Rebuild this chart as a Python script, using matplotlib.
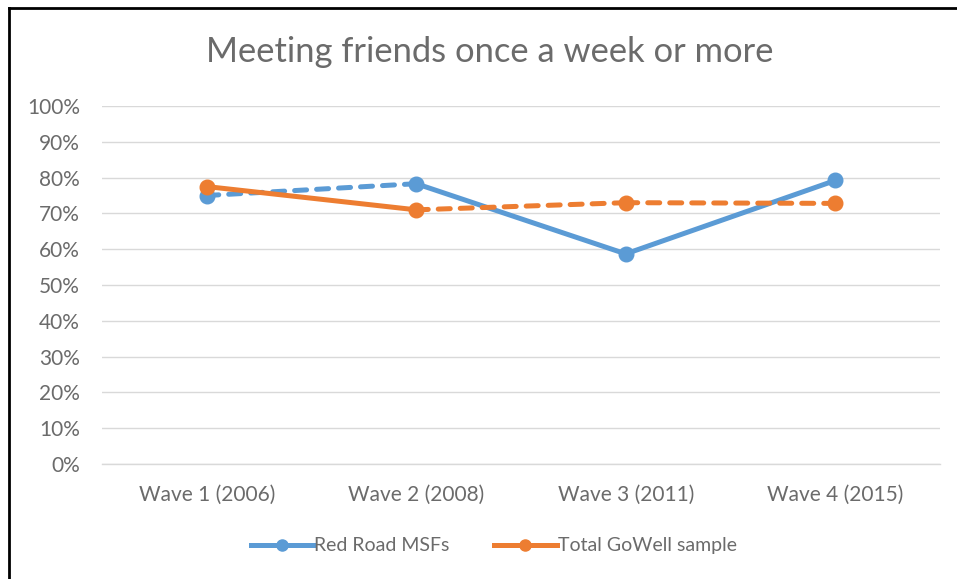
import matplotlib.pyplot as plt
from matplotlib.lines import Line2D

waves = ["Wave 1 (2006)", "Wave 2 (2008)", "Wave 3 (2011)", "Wave 4 (2015)"]
red_road = [75.0, 78.3, 58.7, 79.2]
gowell = [77.5, 71.0, 73.0, 72.8]
# style of each segment between consecutive waves
red_road_segments = ["dashed", "solid", "solid"]
gowell_segments = ["solid", "dashed", "dashed"]
yticks = list(range(0, 101, 10))

blue = "#5B9BD5"
orange = "#ED7D31"
grey = "#6B6B6B"

plt.rcParams["font.family"] = ["Lato", "DejaVu Sans"]

fig = plt.figure(figsize=(9.57, 5.79), dpi=100)
ax = fig.add_axes([0.1066, 0.1986, 0.8756, 0.6183])

x = list(range(len(waves)))


def draw_series(vals, segs, color):
    for i, style in enumerate(segs):
        if style == "dashed":
            ax.plot(x[i:i + 2], vals[i:i + 2], color=color, lw=3.6,
                    dashes=(2.4, 2.0), dash_capstyle="round", zorder=3)
        else:
            ax.plot(x[i:i + 2], vals[i:i + 2], color=color, lw=3.6,
                    solid_capstyle="round", zorder=3)
    ax.plot(x, vals, linestyle="none", marker="o", markersize=10.5,
            color=color, zorder=4)


draw_series(red_road, red_road_segments, blue)
draw_series(gowell, gowell_segments, orange)

ax.set_xlim(-0.5, len(waves) - 0.5)
ax.set_ylim(0, 100)
ax.set_yticks(yticks)
ax.set_yticklabels([f"{v}%" for v in yticks])
ax.set_xticks(x)
ax.set_xticklabels(waves)
ax.tick_params(axis="both", length=0, labelsize=15, labelcolor=grey)
ax.tick_params(axis="y", pad=16)
ax.tick_params(axis="x", pad=15)
ax.grid(axis="y", color="#D9D9D9", lw=1)
ax.set_axisbelow(True)
for side in ["top", "right", "left"]:
    ax.spines[side].set_visible(False)
ax.spines["bottom"].set_color("#D9D9D9")
ax.spines["bottom"].set_linewidth(1)

fig.text(0.512, 0.91, "Meeting friends once a week or more", ha="center",
         va="center", fontsize=24.8, color=grey)

handles = [
    Line2D([], [], color=blue, lw=3.6, marker="o", markersize=8,
           label="Red Road MSFs"),
    Line2D([], [], color=orange, lw=3.6, marker="o", markersize=8,
           label="Total GoWell sample"),
]
fig.legend(handles=handles, loc="center", bbox_to_anchor=(0.516, 0.057),
           ncol=2, frameon=False, fontsize=14, labelcolor=grey,
           handlelength=3.2, handletextpad=0.05, columnspacing=2.3)

# partial black frame (left and top) as in the source
fig.add_artist(Line2D([0.0099, 0.0099], [0, 0.987], color="black", lw=2,
                      transform=fig.transFigure))
fig.add_artist(Line2D([0.0099, 1], [0.987, 0.987], color="black", lw=2,
                      transform=fig.transFigure))

fig.savefig("out.png", dpi=100)
